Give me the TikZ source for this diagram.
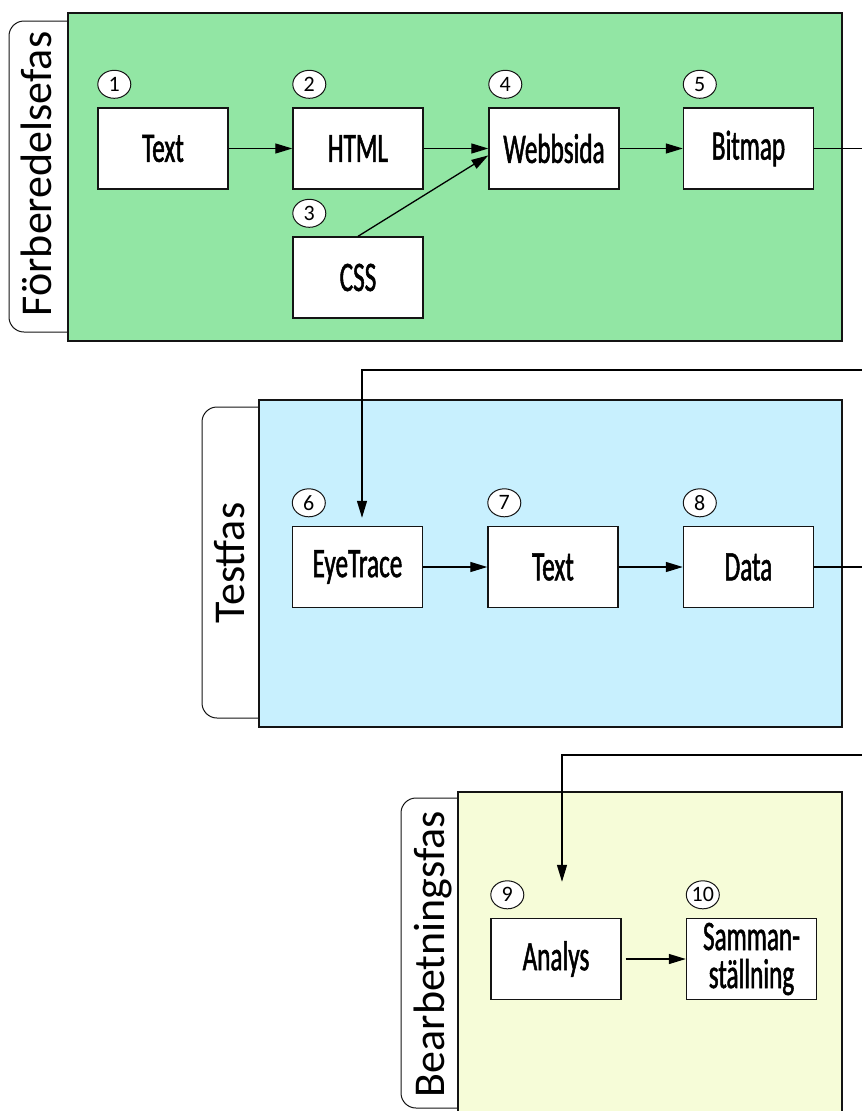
\documentclass[tikz,border=0pt]{standalone}
\usepackage{fontspec}
\setmainfont{Carlito}
\newfontfamily\boxfont[FakeStretch=0.6,FakeBold=1.2]{Carlito}
\usetikzlibrary{arrows.meta,calc,shapes.geometric}

\definecolor{prepgreen}{RGB}{146,230,164}
\definecolor{testblue}{RGB}{200,240,254}
\definecolor{procyellow}{RGB}{246,252,216}
\definecolor{edge}{RGB}{20,20,20}

\tikzset{
  panel/.style={draw=edge, line width=1.5pt},
  tab/.style={draw=edge, fill=white, line width=1pt, rounded corners=15pt},
  tablabel/.style={rotate=90, anchor=base, inner sep=0pt,
    font=\fontsize{44}{44}\selectfont},
  stepbox/.style={draw=edge, fill=white, line width=1.4pt,
    minimum width=130pt, minimum height=81pt, inner sep=0pt, align=center,
    font=\boxfont\fontsize{42}{38}\selectfont},
  num/.style={ellipse, draw=edge, fill=white, line width=1pt,
    minimum width=33pt, minimum height=28pt, inner sep=0pt,
    font=\fontsize{22}{22}\selectfont},
  arr/.style={draw=black, line width=1.3pt, -{Triangle[length=17pt,width=10pt]}},
}

\begin{document}
\begin{tikzpicture}[x=1pt,y=-1pt]
\useasboundingbox (0,0) rectangle (862,1111);

% phase tabs and panels
\draw[tab] (68,21) -- (9,21) -- (9,332) -- (68,332);
\draw[panel, fill=prepgreen] (68,13) rectangle (842,341);
\node[tablabel] (lab1) at (51,174) {Förberedelsefas};

\draw[tab] (259,407) -- (202,407) -- (202,718) -- (259,718);
\draw[panel, fill=testblue] (259,400) rectangle (842,727);
\node[tablabel] (lab2) at (244,563) {Testfas};

\draw[tab] (458,798) -- (401,798) -- (401,1108) -- (458,1108);
\draw[panel, fill=procyellow] (458,792) rectangle (842,1140);
\node[tablabel] (lab3) at (444,954) {Bearbetningsfas};

% process steps
\node[stepbox] (text1) at (163,148.5) {Text};
\node[stepbox] (html)  at (358,148.5) {HTML};
\node[stepbox] (css)   at (358,277.5) {CSS};
\node[stepbox] (web)   at (554,148.5) {Webbsida};
\node[stepbox] (bmp)   at (748.5,148.5) {Bitmap};

\node[stepbox] (eye)   at (357.5,567) {EyeTrace};
\node[stepbox] (text2) at (553,567) {Text};
\node[stepbox] (data)  at (748.5,567) {Data};

\node[stepbox] (ana)   at (556,959) {Analys};
\node[stepbox] (sam)   at (751.5,959) {Samman-\\ställning};

% step numbers
\foreach \b/\n in {text1/1, html/2, css/3, web/4, bmp/5,
                   eye/6, text2/7, data/8, ana/9, sam/10}
  \node[num] (n\n) at ($(\b.north west)+(17,-23)$) {\n};

% connectors
\draw[arr] (text1) -- (html);
\draw[arr] (html) -- (web);
\draw[arr] (css.north) -- (web.186);
\draw[arr] (web) -- (bmp);

\coordinate (r1) at (872,148.5);
\coordinate (k1) at (362,370);
\draw[arr, shorten >=8pt] (bmp.east) -- (r1) |- (k1) -- (k1 |- eye.north);

\draw[arr] (eye) -- (text2);
\draw[arr] (text2) -- (data);

\coordinate (r2) at (872,567);
\coordinate (k2) at (562,755);
\draw[arr, shorten >=36pt] (data.east) -- (r2) |- (k2) -- (k2 |- ana.north);

\draw[arr, shorten <=4pt] (ana) -- (sam);
\end{tikzpicture}
\end{document}
